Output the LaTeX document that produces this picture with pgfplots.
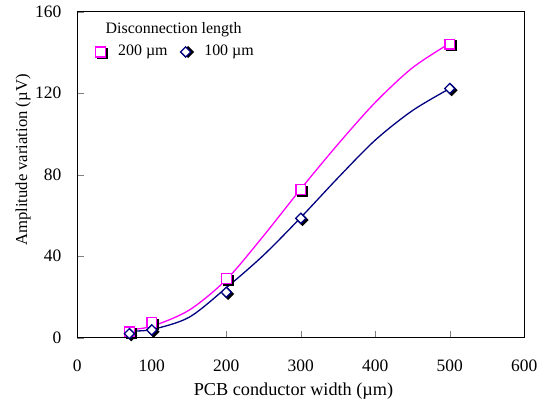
\documentclass[border=0pt]{standalone}
\usepackage{fontspec}
\setmainfont{Liberation Serif}
\usepackage{pgfplots}
\pgfplotsset{compat=1.18}
\definecolor{pinkline}{RGB}{255,0,255}
\definecolor{navyline}{RGB}{0,0,128}

% marker with a black drop shadow, used in the legend
\pgfplotsset{
  shadowlegend/.style={
    legend image code/.code={
      \draw[##1, black, every mark/.append style={xshift=1.8bp, yshift=-1.8bp, fill=black}] plot coordinates {(0bp,0bp)};
      \draw[##1] plot coordinates {(0bp,0bp)};
    }
  }
}

\begin{document}
\fontsize{17.5}{21}\selectfont
\begin{tikzpicture}
\useasboundingbox (-77.3bp,-63.3bp) rectangle (462.7bp,337.7bp);
\begin{axis}[
  scale only axis, width=447bp, height=326bp,
  xmin=0, xmax=600, ymin=0, ymax=160,
  xtick={0,100,...,600}, ytick={0,40,...,160},
  tick align=inside, xtick pos=bottom, ytick pos=left,
  major tick length=7bp,
  line width=1.3bp,
  /pgf/number format/assume math mode=true,
  xticklabel style={anchor=base, yshift=-34bp, inner sep=0pt},
  yticklabel style={anchor=east, xshift=-15.3bp, inner sep=0pt},
  xlabel={PCB conductor width (µm)},
  xlabel style={at={(rel axis cs:0.4837,-0.1758)}, anchor=base, inner sep=0pt,
    font=\fontsize{18.3}{22}\selectfont},
  ylabel={Amplitude variation (µV)},
  ylabel style={at={(rel axis cs:-0.1125,0.545)}, anchor=base, inner sep=0pt,
    font=\fontsize{16.7}{20}\selectfont},
  legend style={draw=none, fill=none, inner sep=0pt, legend columns=2,
    at={(rel axis cs:0.0393,0.8764)}, anchor=west,
    font=\fontsize{16}{19}\selectfont,
    /tikz/every odd column/.append style={column sep=9bp},
    /tikz/every even column/.append style={column sep=11bp}},
  legend cell align=left,
]

% marker shadows
\addplot[only marks, black, mark=square*, mark size=4.9bp, line width=1.3bp,
  mark options={xshift=1.8bp, yshift=-1.8bp}, forget plot] coordinates {
  (70,2.9) (100,7.5) (200,29) (300,72.8) (500,144.1)
};
\addplot[only marks, black, mark=square*, mark size=3.6bp, line width=1.3bp,
  mark options={xshift=1.8bp, yshift=-1.8bp, rotate=45}, forget plot] coordinates {
  (70,2) (100,3.8) (200,22.3) (300,58.6) (500,122.3)
};

% measured values
\addplot[only marks, pinkline, mark=square*, mark size=4.9bp, line width=1.3bp,
  mark options={fill=white}, shadowlegend] coordinates {
  (70,2.9) (100,7.5) (200,29) (300,72.8) (500,144.1)
};
\addlegendentry{200 µm}
\addplot[only marks, navyline, mark=square*, mark size=3.6bp, line width=1.3bp,
  mark options={rotate=45, fill=white}, shadowlegend] coordinates {
  (70,2) (100,3.8) (200,22.3) (300,58.6) (500,122.3)
};
\addlegendentry{100 µm}

% fitted trend curves, drawn over the markers
\addplot[pinkline, line width=1.3bp, smooth, no markers, forget plot] coordinates {
  (70,4) (100,5.6) (150,13.5) (200,28.5) (250,50) (300,73) (350,95) (400,115.5) (450,132.5) (500,144.5)
};
\addplot[navyline, line width=1.3bp, smooth, no markers, forget plot] coordinates {
  (70,3.3) (100,4) (150,10) (200,24.5) (250,40.5) (300,59) (350,78.5) (400,97) (450,111.5) (500,122.3)
};

\node[anchor=base west, inner sep=0pt, font=\fontsize{16}{19}\selectfont]
  at (rel axis cs:0.062,0.9337) {Disconnection length};
\end{axis}
\end{tikzpicture}
\end{document}
